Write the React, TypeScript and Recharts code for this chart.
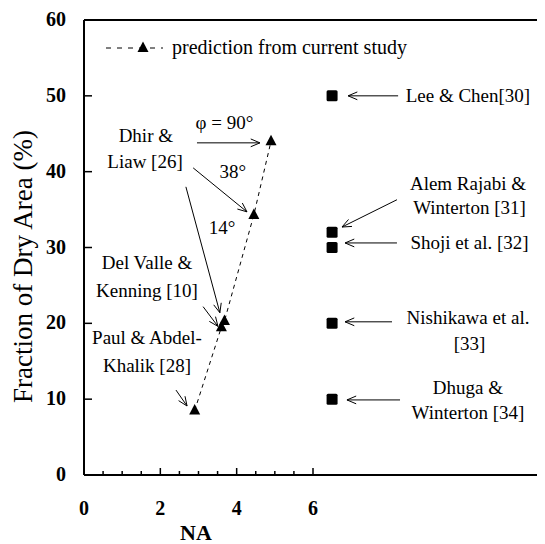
import React from 'react';
import {
  ComposedChart, Scatter, XAxis, YAxis, ReferenceLine, ReferenceDot, Legend,
} from 'recharts';

const FONT = '"Liberation Serif", "Times New Roman", serif';

// prediction from current study
const predNA = [2.9, 3.6, 3.68, 4.45, 4.9];
const predDry = [8.5, 19.5, 20.3, 34.3, 44];
// literature values
const litNA = [6.5, 6.5, 6.5, 6.5, 6.5];
const litDry = [50, 32, 30, 20, 10];

const yTicks = [0, 10, 20, 30, 40, 50, 60];
const xTicks = [0, 0.5, 1, 1.5, 2, 2.5, 3, 3.5, 4, 4.5, 5, 5.5, 6];
const xLabelTicks = [0, 2, 4, 6];

// annotation arrows (data coords): from -> to
const arrowFrom = [
  [2.96, 43.8], [2.86, 40.5], [2.67, 38.0], [3.12, 22.2], [2.41, 11.2],
  [8.23, 50], [8.2, 36.3], [8.2, 30.6], [8.07, 20.2], [8.28, 9.9],
];
const arrowTo = [
  [4.61, 43.8], [4.27, 34.7], [3.56, 21.4], [3.51, 19.6], [2.70, 9.1],
  [6.92, 50], [6.76, 32.7], [6.84, 30.6], [6.84, 20.2], [6.89, 9.9],
];

// annotation texts (data coords of centre)
const noteText = [
  'Dhir &', 'Liaw [26]', 'φ = 90°', '38°', '14°',
  'Del Valle &', 'Kenning [10]', 'Paul & Abdel-', 'Khalik [28]',
  'Lee & Chen[30]', 'Alem Rajabi &', 'Winterton [31]', 'Shoji et al. [32]',
  'Nishikawa et al.', '[33]', 'Dhuga &', 'Winterton [34]',
];
const noteX = [1.62, 1.60, 3.68, 3.90, 3.62, 1.65, 1.65, 1.65, 1.65, 10.06, 10.06, 10.1, 10.1, 10.06, 10.1, 10.06, 10.06];
const noteY = [44.8, 41.3, 46.5, 40.0, 32.7, 28.0, 24.4, 18.1, 14.5, 50, 38.5, 35.3, 30.7, 20.8, 17.4, 11.6, 8.2];

const predData = predNA.map((x, i) => ({ x, y: predDry[i] }));
const litData = litNA.map((x, i) => ({ x, y: litDry[i] }));

const Tri = (p: any) => {
  const { cx, cy } = p;
  return <path d={`M${cx},${cy - 6.5} L${cx - 5.5},${cy + 4} L${cx + 5.5},${cy + 4} Z`} fill="#000" />;
};
const Sq = (p: any) => {
  const { cx, cy } = p;
  return <rect x={cx - 5.5} y={cy - 5.5} width={11} height={11} rx={1.5} fill="#000" />;
};

const arrowShape = (p: any) => {
  const { x1, y1, x2, y2 } = p;
  const ang = Math.atan2(y2 - y1, x2 - x1);
  const L = 10, a = 0.4;
  const hx1 = x2 - L * Math.cos(ang - a), hy1 = y2 - L * Math.sin(ang - a);
  const hx2 = x2 - L * Math.cos(ang + a), hy2 = y2 - L * Math.sin(ang + a);
  return (
    <g>
      <line x1={x1} y1={y1} x2={x2} y2={y2} stroke="#000" strokeWidth={1} />
      <polyline points={`${hx1},${hy1} ${x2},${y2} ${hx2},${hy2}`} fill="none" stroke="#000" strokeWidth={1} />
    </g>
  );
};

const YTick = (p: any) => {
  const { x, y, payload } = p;
  return (
    <g>
      <line x1={x} x2={x + 8} y1={y} y2={y} stroke="#000" strokeWidth={1.5} />
      <text x={x - 18} y={y} dy="0.3em" textAnchor="end" fontFamily={FONT} fontWeight="bold" fontSize={20} fill="#000">
        {payload.value}
      </text>
    </g>
  );
};

const XTick = (p: any) => {
  const { x, y, payload } = p;
  const major = xLabelTicks.includes(payload.value);
  return (
    <g>
      {payload.value !== 0 && (
        <line x1={x} x2={x} y1={y} y2={y - (major ? 7 : 4)} stroke="#000" strokeWidth={1.5} />
      )}
      {major && (
        <text x={x} y={y + 40} textAnchor="middle" fontFamily={FONT} fontWeight="bold" fontSize={20} fill="#000">
          {payload.value}
        </text>
      )}
    </g>
  );
};

const LegendContent = () => (
  <div style={{ display: 'flex', alignItems: 'center', height: 20, fontFamily: FONT, fontSize: 20, color: '#000', whiteSpace: 'nowrap' }}>
    <svg width={60} height={20}>
      <line x1={1} x2={58} y1={11} y2={11} stroke="#000" strokeWidth={1} strokeDasharray="5 6" />
      <path d="M38,4.5 L32.5,15 L43.5,15 Z" fill="#000" />
    </svg>
    <span style={{ marginLeft: 7 }}>prediction from current study</span>
  </div>
);

export default function App() {
  return (
    <ComposedChart width={537} height={536} margin={{ top: 12, right: 3, left: 0, bottom: 0 }}>
      <XAxis
        type="number" dataKey="x" domain={[0, 12]} ticks={xTicks} interval={0}
        tickLine={false} tickSize={0} tickMargin={0} tick={<XTick />} height={69}
        axisLine={{ stroke: '#000', strokeWidth: 2 }}
        label={{
          value: 'NA',
          content: (lp: any) => {
            const vb = lp.viewBox || { x: 76, y: 467 };
            return (
              <text x={vb.x + 112} y={vb.y + 65} textAnchor="middle" fontFamily={FONT} fontWeight="bold" fontSize={22} fill="#000">NA</text>
            );
          },
        }}
      />
      <YAxis
        type="number" dataKey="y" domain={[0, 60]} ticks={yTicks} interval={0}
        tickLine={false} tickSize={0} tickMargin={0} tick={<YTick />} width={76}
        axisLine={{ stroke: '#000', strokeWidth: 2 }}
        label={{
          value: 'Fraction of Dry Area (%)',
          content: (lp: any) => {
            const vb = lp.viewBox || { x: 0, y: 12, height: 455 };
            const cx = 15, cy = vb.y + 246.5;
            return (
              <text x={cx} y={cy} dy="0.35em" textAnchor="middle" transform={`rotate(-90, ${cx}, ${cy})`} fontFamily={FONT} fontSize={27} fill="#000">
                Fraction of Dry Area (%)
              </text>
            );
          },
        }}
      />
      <ReferenceLine y={60} stroke="#000" strokeWidth={2} />
      <ReferenceLine x={12} stroke="#000" strokeWidth={1.5} />
      <Legend layout="vertical" align="center" verticalAlign="middle"
        wrapperStyle={{ top: 29, left: 97, width: 340, height: 20 }}
        content={() => <LegendContent />} />
      {arrowFrom.map((f, i) => (
        <ReferenceLine key={`a${i}`} segment={[{ x: f[0], y: f[1] }, { x: arrowTo[i][0], y: arrowTo[i][1] }]} shape={arrowShape} />
      ))}
      {noteText.map((t, i) => (
        <ReferenceDot key={`t${i}`} x={noteX[i]} y={noteY[i]} r={0}
          shape={(p: any) => (
            <text x={p.cx} y={p.cy} dy="0.35em" textAnchor="middle" fontFamily={FONT} fontSize={19} fill="#000">{t}</text>
          )} />
      ))}
      <Scatter data={predData} shape={Tri} isAnimationActive={false}
        line={{ stroke: '#000', strokeWidth: 1, strokeDasharray: '4 4' }} lineType="joint" />
      <Scatter data={litData} shape={Sq} isAnimationActive={false} />
    </ComposedChart>
  );
}
